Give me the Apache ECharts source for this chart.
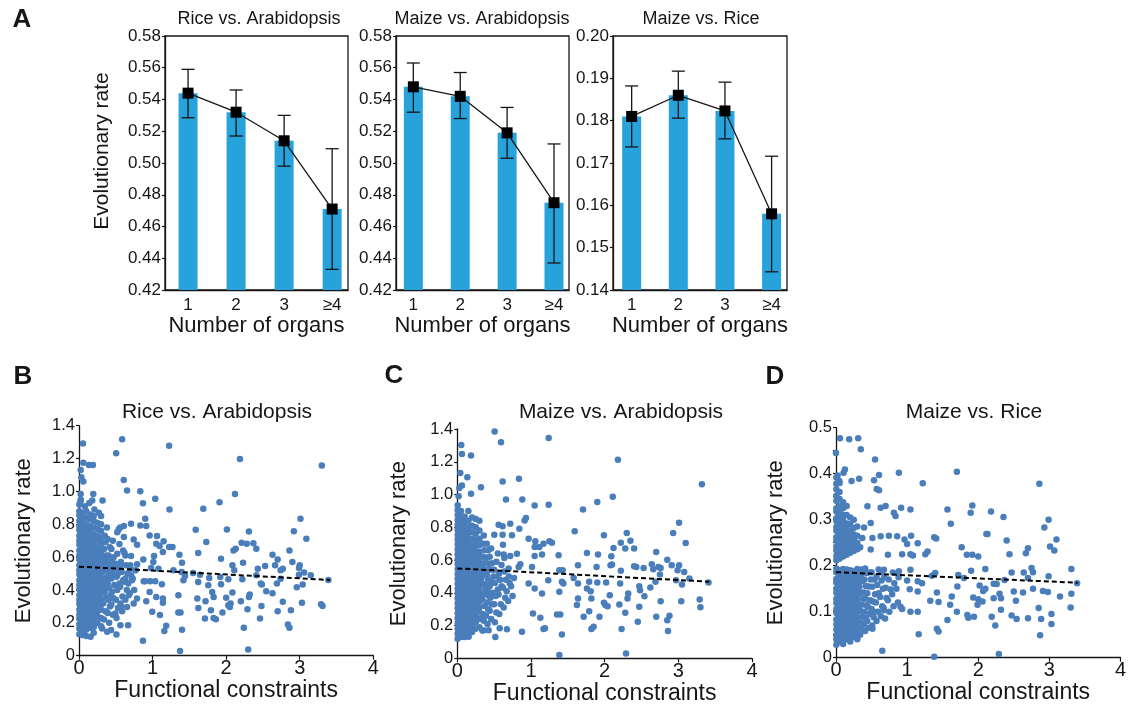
<!DOCTYPE html>
<html><head><meta charset="utf-8">
<script src="https://cdn.jsdelivr.net/npm/echarts@6/dist/echarts.min.js"></script>
<style>html,body{margin:0;padding:0;background:#fff}#c{width:1129px;height:709px}</style>
</head><body><div id="c"></div><script>
// ---------- Panel A data ----------
const organCats = [1, 2, 3, 4];
const organLabels = ['1', '2', '3', '≥4'];
const riceArabMean = [0.544, 0.532, 0.514, 0.471];
const riceArabLow  = [0.5285, 0.517, 0.498, 0.433];
const riceArabHigh = [0.559, 0.546, 0.530, 0.509];
const maizeArabMean = [0.548, 0.542, 0.519, 0.475];
const maizeArabLow  = [0.532, 0.528, 0.503, 0.437];
const maizeArabHigh = [0.563, 0.557, 0.535, 0.512];
const maizeRiceMean = [0.181, 0.186, 0.1823, 0.158];
const maizeRiceLow  = [0.1738, 0.1806, 0.1757, 0.1443];
const maizeRiceHigh = [0.1882, 0.1917, 0.1891, 0.1716];

// ---------- Panels B-D data (functional constraints, evolutionary rate) ----------
const bSparse = [[0.054,1.292],[0.586,1.318],[0.505,1.232],[1.225,1.278],[0.059,1.175],[0.135,1.161],[0.189,1.161],[0.023,1.13],[0.032,1.086],[0.059,1.06],[0.608,1.07],[0.653,1.005],[0.833,1.001],[0.023,0.985],[0.194,0.985],[1.036,0.955],[0.02,0.94],[0.32,0.944],[0.18,0.944],[0.869,0.928],[1.23,0.89],[1.689,0.894],
[0.9,0.833],[0.56,0.78],[0.61,0.79],[0.54,0.77],[0.707,0.803],[0.833,0.793],[0.914,0.789],[0.52,0.752],[0.61,0.722],[0.743,0.708],[0.96,0.732],[1.06,0.728],[1.05,0.681],[1.15,0.696],[1.095,0.667],[1.225,0.661],[1.27,0.661],[0.79,0.675],[1.586,0.766],[1.73,0.692],[1.62,0.625],[1.365,0.615],[1.14,0.631],[1.02,0.607],[0.617,0.627],[0.63,0.61],[0.707,0.607],[0.874,0.586],[1.4,0.566],[1.01,0.57],[0.79,0.556],[0.698,0.55],[0.56,0.54],[0.47,0.534],[0.98,0.534],[1.08,0.53],[1.284,0.52],[1.395,0.51],[1.55,0.504],[1.644,0.493],[1.441,0.485],[1.419,0.459],[0.9,0.453],[0.968,0.453],[1.036,0.453],[0.88,0.453],[1.126,0.435],[0.52,0.49],[0.63,0.47],[0.72,0.46],[1.62,0.449],[1.757,0.429],[1.351,0.368],[0.96,0.388],[1.05,0.358],[1.14,0.348],[1.14,0.322],[0.914,0.332],[0.788,0.348],[0.676,0.368],[0.743,0.317],[0.653,0.297],[0.563,0.317],[1.608,0.348],[1.622,0.291],[1.793,0.277],[1.712,0.226],[0.586,0.271],[0.495,0.257],[0.995,0.267],[1.1,0.247],[1.35,0.263],[1.38,0.263],[0.563,0.186],[0.667,0.186],[1.185,0.182],[1.16,0.15],[1.4,0.158],[0.509,0.129],[0.869,0.091],[1.374,0.028],
[0.045,0.126],[0.158,0.115],[0.203,0.176],[0.315,0.166],[0.383,0.146],[0.437,0.156],[0.135,0.186],[0.068,0.146],[0.025,0.95],[0.08,0.91],[0.14,0.93],[0.21,0.89],[0.27,0.87],
[0.34,0.22],[0.36,0.27],[0.33,0.32],[0.37,0.355],[0.35,0.39],[0.34,0.42],[0.36,0.45],[0.38,0.48],[0.33,0.515],[0.36,0.55],[0.35,0.58],[0.37,0.61],[0.34,0.65],[0.36,0.69],[0.35,0.73],[0.38,0.78],
[0.41,0.2],[0.39,0.26],[0.42,0.3],[0.4,0.34],[0.43,0.37],[0.41,0.41],[0.39,0.44],[0.42,0.475],[0.4,0.51],[0.43,0.54],[0.41,0.575],[0.4,0.61],[0.42,0.66],[0.39,0.71],
[0.46,0.25],[0.44,0.31],[0.47,0.35],[0.45,0.39],[0.48,0.43],[0.44,0.47],[0.46,0.5],[0.49,0.535],[0.45,0.57],[0.47,0.6],[0.44,0.65],[0.46,0.7],
[0.51,0.23],[0.53,0.29],[0.5,0.34],[0.52,0.4],[0.55,0.44],[0.51,0.48],[0.54,0.52],[0.5,0.56],[0.52,0.62],[0.55,0.68],
[0.57,0.3],[0.59,0.36],[0.56,0.42],[0.6,0.46],[0.58,0.51],[0.57,0.57],[0.6,0.64],
[0.63,0.34],[0.65,0.4],[0.62,0.45],[0.66,0.5],[0.64,0.55],[0.69,0.38],[0.67,0.44],[0.71,0.49],[0.7,0.53],[0.75,0.4],[0.73,0.47],[0.77,0.52],
[2.1875,1.197],[3.30,1.157],[2.12,0.985],[1.91,0.934],[2.01,0.768],[2.31,0.756],[2.21,0.688],[2.28,0.681],[2.37,0.684],[2.41,0.651],[2.10,0.641],[2.13,0.651],[1.93,0.59],[2.23,0.566],[2.085,0.55],[2.11,0.52],[2.63,0.615],[2.70,0.586],[2.86,0.641],[2.90,0.57],[2.92,0.758],[3.01,0.833],[3.09,0.712],[2.53,0.546],[2.665,0.55],[2.77,0.53],[2.74,0.52],[2.43,0.53],[3.00,0.55],[2.99,0.534],[3.06,0.506],[3.15,0.49],[2.99,0.493],[3.39,0.461],[1.77,0.473],[1.92,0.479],[2.03,0.465],[2.22,0.465],[2.41,0.49],[2.74,0.469],[3.04,0.433],[2.96,0.417],[2.69,0.439],[2.47,0.439],[2.485,0.433],[2.545,0.392],[2.63,0.38],[1.93,0.435],[1.81,0.388],[1.83,0.358],[2.085,0.384],[2.0,0.352],[2.32,0.372],[2.31,0.358],[1.72,0.332],[2.03,0.307],[2.05,0.297],[2.06,0.318],[2.2,0.332],[2.48,0.303],[2.77,0.328],[3.03,0.322],[3.29,0.313],[3.31,0.303],[1.95,0.263],[2.29,0.283],[2.70,0.271],[2.88,0.277],[1.83,0.23],[1.86,0.222],[2.46,0.226],[2.24,0.17],[2.84,0.19],[2.86,0.17],[2.30,0.038]];
const bDense = [
[0.005,[0.13,0.165,0.19,0.225,0.25,0.28,0.315,0.34,0.37,0.405,0.43,0.46,0.495,0.52,0.55,0.585,0.61,0.64,0.675,0.7,0.73,0.765,0.79,0.82,0.855,0.88,0.92]],
[0.05,[0.15,0.18,0.21,0.24,0.27,0.295,0.33,0.355,0.385,0.415,0.445,0.475,0.505,0.535,0.565,0.595,0.625,0.655,0.685,0.715,0.745,0.775,0.805,0.835,0.87]],
[0.1,[0.12,0.16,0.2,0.23,0.26,0.29,0.32,0.35,0.38,0.41,0.44,0.47,0.5,0.53,0.56,0.59,0.62,0.65,0.68,0.71,0.74,0.77,0.8,0.84,0.88]],
[0.15,[0.17,0.2,0.235,0.265,0.3,0.33,0.36,0.39,0.425,0.455,0.485,0.51,0.545,0.575,0.6,0.635,0.665,0.695,0.725,0.76,0.79,0.83,0.86]],
[0.2,[0.14,0.19,0.22,0.25,0.285,0.315,0.345,0.37,0.4,0.435,0.465,0.49,0.525,0.555,0.58,0.615,0.645,0.67,0.705,0.74,0.78,0.82,0.85]],
[0.25,[0.2,0.24,0.27,0.3,0.335,0.365,0.39,0.42,0.455,0.48,0.51,0.54,0.57,0.6,0.63,0.66,0.7,0.73,0.77,0.81]],
[0.3,[0.18,0.23,0.28,0.31,0.345,0.38,0.41,0.44,0.47,0.5,0.53,0.56,0.59,0.625,0.66,0.69,0.72,0.76,0.8,0.85]]];
const bTrend = [[0, 0.542], [3.41, 0.461]];

const cSparse = [[0.507,1.384],[0.593,1.319],[1.24,1.345],[0.054,1.302],[0.063,1.248],[0.186,1.238],[0.041,1.132],[0.136,1.106],[0.063,1.055],[0.027,1.04],[0.615,1.08],[0.837,1.096],[0.321,1.045],[0.186,1.004],[0.018,0.99],[0.661,0.97],[0.882,0.97],[1.05,0.933],[1.24,0.937],[1.706,0.909],[1.593,0.775],[0.561,0.816],[0.615,0.806],[0.719,0.822],[0.842,0.791],[0.932,0.856],[0.914,0.842],[0.502,0.755],[0.615,0.755],[0.742,0.751],[0.968,0.73],[1.059,0.714],[1.17,0.7],[1.25,0.714],[1.285,0.706],[1.113,0.68],[1.05,0.68],[0.62,0.694],[1.76,0.643],[1.375,0.629],[1.15,0.633],[1.05,0.625],[0.81,0.639],[0.629,0.633],[0.638,0.613],[0.719,0.625],[1.638,0.568],[0.855,0.574],[0.833,0.558],[1.014,0.558],[0.697,0.548],[1.385,0.538],[1.43,0.538],[1.235,0.477],[1.42,0.467],[1.44,0.457],[1.579,0.491],[1.638,0.456],[1.385,0.406],[1.15,0.396],[1.05,0.426],[0.968,0.456],[1.638,0.365],[1.624,0.325],[1.79,0.288],[1.715,0.254],[1.027,0.274],[1.127,0.248],[1.353,0.268],[1.398,0.268],[1.17,0.179],[1.19,0.183],[1.42,0.146],[0.674,0.177],[0.878,0.162],[0.516,0.13],[1.385,0.02],
[0.054,0.132],[0.154,0.132],[0.2,0.187],[0.267,0.243],[0.335,0.243],[0.357,0.172],[0.425,0.172],[0.575,0.183],[0.086,0.183],
[0.34,0.17],[0.36,0.23],[0.35,0.27],[0.37,0.32],[0.34,0.36],[0.36,0.39],[0.38,0.42],[0.35,0.455],[0.33,0.49],[0.37,0.52],[0.35,0.55],[0.36,0.58],[0.34,0.62],[0.37,0.66],[0.35,0.7],[0.36,0.75],
[0.41,0.21],[0.39,0.26],[0.42,0.3],[0.4,0.34],[0.43,0.38],[0.41,0.41],[0.39,0.445],[0.42,0.48],[0.4,0.51],[0.43,0.545],[0.41,0.58],[0.39,0.615],[0.42,0.66],[0.4,0.7],
[0.46,0.24],[0.44,0.29],[0.47,0.33],[0.45,0.37],[0.48,0.4],[0.44,0.44],[0.46,0.47],[0.49,0.5],[0.45,0.54],[0.47,0.58],[0.44,0.62],[0.46,0.67],
[0.51,0.22],[0.53,0.28],[0.5,0.33],[0.52,0.38],[0.55,0.42],[0.51,0.46],[0.54,0.5],[0.5,0.54],[0.53,0.59],[0.55,0.64],
[0.57,0.27],[0.59,0.33],[0.56,0.39],[0.6,0.44],[0.58,0.48],[0.57,0.52],[0.6,0.57],
[0.63,0.31],[0.65,0.37],[0.62,0.43],[0.66,0.48],[0.64,0.53],[0.69,0.35],[0.67,0.41],[0.71,0.46],[0.7,0.5],[0.75,0.38],[0.73,0.44],[0.77,0.49],
[2.18,1.213],[3.32,1.063],[2.11,0.986],[1.9,0.954],[1.99,0.751],[2.3,0.765],[2.22,0.706],[2.35,0.718],[2.28,0.67],[2.4,0.67],[2.12,0.674],[3.01,0.828],[2.93,0.765],[3.1,0.704],[1.91,0.633],[2.09,0.623],[2.08,0.568],[2.1,0.572],[1.89,0.558],[2.22,0.534],[2.4,0.562],[2.43,0.558],[2.53,0.552],[2.64,0.574],[2.7,0.649],[2.85,0.601],[2.73,0.558],[2.76,0.552],[2.66,0.544],[2.75,0.511],[2.91,0.568],[3.01,0.568],[2.99,0.538],[3.08,0.527],[3.15,0.487],[3.41,0.463],[2.97,0.477],[3.05,0.45],[2.69,0.467],[2.62,0.432],[2.47,0.44],[2.48,0.416],[2.54,0.379],[2.32,0.396],[2.31,0.365],[2.21,0.456],[2.02,0.463],[1.9,0.463],[1.79,0.467],[1.76,0.426],[1.81,0.41],[2.07,0.385],[1.82,0.365],[1.99,0.339],[2.01,0.325],[2.04,0.318],[2.2,0.329],[2.47,0.314],[2.76,0.349],[3.04,0.349],[3.29,0.359],[3.3,0.312],[1.93,0.254],[2.28,0.278],[2.7,0.254],[2.88,0.26],[2.45,0.223],[1.82,0.179],[1.85,0.193],[2.23,0.179],[2.85,0.233],[2.86,0.166],[2.29,0.03]];
const cDense = [
[0.005,[0.12,0.15,0.18,0.215,0.245,0.275,0.305,0.335,0.365,0.395,0.425,0.455,0.485,0.515,0.545,0.575,0.605,0.635,0.665,0.695,0.725,0.755,0.785,0.815,0.845,0.875,0.905,0.935]],
[0.05,[0.14,0.17,0.2,0.23,0.26,0.29,0.32,0.35,0.38,0.41,0.44,0.47,0.5,0.53,0.56,0.59,0.62,0.65,0.68,0.71,0.74,0.77,0.8,0.835,0.87,0.9]],
[0.1,[0.13,0.165,0.195,0.225,0.255,0.285,0.315,0.345,0.375,0.405,0.435,0.465,0.495,0.525,0.555,0.585,0.615,0.645,0.675,0.705,0.735,0.765,0.795,0.83,0.865]],
[0.15,[0.15,0.185,0.215,0.245,0.28,0.31,0.34,0.37,0.4,0.43,0.46,0.49,0.52,0.55,0.58,0.61,0.64,0.67,0.7,0.73,0.765,0.8,0.84,0.9]],
[0.2,[0.16,0.2,0.235,0.265,0.3,0.33,0.36,0.39,0.42,0.45,0.48,0.51,0.54,0.57,0.6,0.63,0.66,0.69,0.73,0.77,0.81,0.86]],
[0.25,[0.18,0.22,0.255,0.29,0.32,0.35,0.38,0.41,0.44,0.47,0.5,0.53,0.56,0.59,0.62,0.655,0.69,0.72,0.76,0.8,0.85]],
[0.3,[0.19,0.24,0.28,0.31,0.345,0.375,0.405,0.435,0.465,0.495,0.525,0.555,0.585,0.62,0.65,0.69,0.73,0.78,0.84]]];
const cTrend = [[0, 0.549], [3.42, 0.468]];

const dSparse = [[0.056,0.477],[0.186,0.475],[0.312,0.477],[0.0,0.445],[0.349,0.453],[0.549,0.431],[0.884,0.402],[1.70,0.404],[1.22,0.379],[0.126,0.409],[0.107,0.402],[0.023,0.396],[0.047,0.384],[0.219,0.384],[0.326,0.389],[0.535,0.386],[0.605,0.397],[0.572,0.367],[0.605,0.364],[0.442,0.329],[0.628,0.326],[0.698,0.33],[0.814,0.315],[0.837,0.308],[0.916,0.326],[1.047,0.322],[1.567,0.322],[1.614,0.291],[0.488,0.293],[0.395,0.283],[0.512,0.26],[0.628,0.264],[0.744,0.265],[0.86,0.264],[1.056,0.265],[0.963,0.257],[1.0,0.247],[1.149,0.249],[1.381,0.262],[1.409,0.259],[1.047,0.225],[0.93,0.225],[0.73,0.224],[0.488,0.235],[1.288,0.231],[1.256,0.225],[1.767,0.24],[1.84,0.224],[1.082,0.222],[0.674,0.191],[0.884,0.188],[1.047,0.191],[1.395,0.184],[1.72,0.18],[1.0,0.168],[1.149,0.166],[1.21,0.162],[1.349,0.178],[1.707,0.155],[1.037,0.149],[1.149,0.144],[1.419,0.142],[1.628,0.133],[1.326,0.124],[1.442,0.121],[1.605,0.115],[0.907,0.111],[0.93,0.106],[1.047,0.1],[1.149,0.1],[1.7,0.1],[1.847,0.093],[1.567,0.082],[0.512,0.063],[0.535,0.1],[0.674,0.103],[1.163,0.051],[1.419,0.063],[1.442,0.057],[0.651,0.015],[1.381,0.002],
[0.34,0.05],[0.36,0.063],[0.35,0.076],[0.37,0.089],[0.34,0.102],[0.36,0.115],[0.38,0.128],[0.35,0.141],[0.33,0.154],[0.37,0.167],[0.35,0.18],[0.36,0.192],[0.34,0.24],[0.37,0.26],
[0.41,0.058],[0.39,0.072],[0.42,0.086],[0.4,0.1],[0.43,0.114],[0.41,0.128],[0.39,0.142],[0.42,0.156],[0.4,0.17],[0.43,0.184],[0.41,0.194],
[0.46,0.065],[0.44,0.08],[0.47,0.095],[0.45,0.11],[0.48,0.125],[0.44,0.14],[0.46,0.155],[0.49,0.17],[0.45,0.185],
[0.51,0.07],[0.53,0.088],[0.5,0.106],[0.52,0.122],[0.55,0.138],[0.51,0.154],[0.54,0.17],[0.5,0.186],
[0.57,0.08],[0.59,0.1],[0.56,0.12],[0.6,0.14],[0.58,0.158],[0.57,0.176],[0.6,0.192],
[0.63,0.09],[0.65,0.112],[0.62,0.132],[0.66,0.15],[0.64,0.168],[0.63,0.186],[0.69,0.085],[0.67,0.108],[0.71,0.13],[0.7,0.152],[0.68,0.175],
[0.75,0.1],[0.73,0.125],[0.77,0.148],[0.74,0.17],[0.81,0.112],[0.79,0.138],[0.82,0.162],[0.8,0.185],[0.87,0.12],[0.85,0.15],[0.88,0.175],
[2.86,0.378],[1.917,0.331],[1.894,0.315],[2.18,0.318],[2.355,0.306],[2.99,0.3],[2.93,0.283],[2.115,0.269],[2.13,0.269],[2.4,0.255],[3.1,0.257],[3.01,0.242],[3.07,0.233],[2.7,0.238],[2.67,0.227],[2.44,0.225],[1.917,0.224],[2.0,0.22],[2.1,0.193],[1.9,0.189],[2.47,0.185],[2.64,0.185],[2.75,0.195],[2.77,0.186],[3.31,0.193],[2.99,0.177],[1.8,0.173],[2.37,0.169],[2.7,0.173],[3.39,0.162],[2.02,0.157],[2.217,0.161],[2.26,0.16],[2.1,0.15],[2.07,0.145],[2.77,0.15],[2.5,0.144],[2.63,0.142],[2.91,0.145],[2.98,0.143],[3.31,0.139],[3.15,0.133],[1.93,0.131],[2.0,0.127],[2.06,0.122],[2.217,0.129],[2.3,0.139],[2.32,0.129],[2.53,0.124],[1.99,0.115],[2.85,0.108],[3.3,0.109],[2.32,0.104],[3.03,0.095],[1.86,0.087],[1.94,0.089],[2.19,0.089],[2.47,0.092],[2.54,0.084],[2.7,0.086],[2.885,0.084],[2.24,0.07],[3.03,0.073],[2.87,0.049],[2.29,0.008]];
const dDense = [
[0.005,[0.028,0.04,0.049,0.061,0.072,0.083,0.097,0.106,0.119,0.128,0.141,0.15,0.163,0.171,0.186,0.194,0.212,0.221,0.233,0.241,0.254,0.262,0.276,0.284,0.297,0.303,0.318,0.325,0.341,0.352,0.366,0.378,0.392]],
[0.05,[0.035,0.046,0.056,0.067,0.078,0.089,0.1,0.111,0.123,0.134,0.145,0.156,0.167,0.178,0.19,0.215,0.226,0.237,0.248,0.259,0.27,0.281,0.292,0.305,0.316,0.33,0.345,0.36,0.38]],
[0.1,[0.03,0.042,0.053,0.064,0.075,0.086,0.097,0.108,0.119,0.13,0.141,0.152,0.163,0.174,0.185,0.193,0.22,0.231,0.242,0.253,0.264,0.275,0.286,0.298,0.31,0.325,0.338]],
[0.15,[0.04,0.051,0.062,0.073,0.084,0.095,0.106,0.117,0.128,0.139,0.15,0.161,0.172,0.183,0.192,0.224,0.235,0.246,0.257,0.268,0.28,0.292,0.31,0.33]],
[0.2,[0.035,0.047,0.058,0.069,0.08,0.091,0.102,0.113,0.124,0.135,0.146,0.157,0.168,0.179,0.19,0.228,0.24,0.252,0.264,0.276,0.29,0.305]],
[0.25,[0.045,0.056,0.067,0.078,0.089,0.1,0.111,0.122,0.133,0.144,0.155,0.166,0.177,0.188,0.232,0.244,0.256,0.268,0.282,0.3]],
[0.3,[0.04,0.052,0.064,0.076,0.088,0.1,0.112,0.124,0.136,0.148,0.16,0.172,0.184,0.193,0.236,0.25,0.265,0.285]]];
const dTrend = [[0, 0.186], [3.4, 0.163]];

// ---------- build ----------
const FONT = "'Liberation Sans', Arial, sans-serif";
const INK = '#161616';
const BAR = '#27a2db';
const DOT = '#4a7ebb';
function expand(cols) { const out = []; cols.forEach(c => c[1].forEach(y => out.push([c[0], y]))); return out; }

const barPanels = [
  {mean: riceArabMean, low: riceArabLow, high: riceArabHigh, ymin: 0.42, ymax: 0.58, step: 0.02, xmin: 0.52, xmax: 4.33,
   grid: {left: 165, top: 36, width: 183, height: 254}, yName: 'Evolutionary rate'},
  {mean: maizeArabMean, low: maizeArabLow, high: maizeArabHigh, ymin: 0.42, ymax: 0.58, step: 0.02, xmin: 0.63, xmax: 4.32,
   grid: {left: 396, top: 36, width: 173, height: 254}, yName: ''},
  {mean: maizeRiceMean, low: maizeRiceLow, high: maizeRiceHigh, ymin: 0.14, ymax: 0.20, step: 0.01, xmin: 0.6, xmax: 4.33,
   grid: {left: 613, top: 36, width: 174, height: 254}, yName: ''}
];
const scatterPanels = [
  {pts: expand(bDense).concat(bSparse), trend: bTrend, ymax: 1.4, step: 0.2, grid: {left: 79, top: 425.7, width: 294.3, height: 230}, gap: 44},
  {pts: expand(cDense).concat(cSparse), trend: cTrend, ymax: 1.4, step: 0.2, grid: {left: 457.3, top: 429, width: 294.7, height: 229.3}, gap: 47},
  {pts: expand(dDense).concat(dSparse), trend: dTrend, ymax: 0.5, step: 0.05, grid: {left: 836, top: 427.7, width: 287, height: 230}, gap: 49}
];

const grid = [], xAxis = [], yAxis = [], series = [];
const axisLine = {show: true, lineStyle: {color: INK, width: 1.3}};

barPanels.forEach((p, i) => {
  grid.push(Object.assign({show: true, borderColor: INK, borderWidth: 1.3, backgroundColor: 'transparent'}, p.grid));
  xAxis.push({type: 'value', gridIndex: i, min: p.xmin, max: p.xmax,
    axisLine: axisLine, axisTick: {show: false}, splitLine: {show: false},
    axisLabel: {customValues: organCats, formatter: v => organLabels[organCats.indexOf(Math.round(v))] || '',
      fontSize: 17, color: INK, fontFamily: FONT, margin: 7},
    name: 'Number of organs', nameLocation: 'middle', nameGap: 21,
    nameTextStyle: {fontSize: 22, color: INK, fontFamily: FONT}});
  yAxis.push({type: 'value', gridIndex: i, min: p.ymin, max: p.ymax, interval: p.step,
    axisLine: axisLine, axisTick: {show: true, length: 3, lineStyle: {color: INK, width: 1.2}}, splitLine: {show: false},
    axisLabel: {formatter: v => v.toFixed(2), fontSize: 17, color: INK, fontFamily: FONT, margin: 4},
    name: p.yName, nameLocation: 'middle', nameGap: 52,
    nameTextStyle: {fontSize: 21, color: INK, fontFamily: FONT, padding: [0, 0, 0, 24]}});
  const ymin = p.ymin;
  series.push({type: 'custom', xAxisIndex: i, yAxisIndex: i, z: 2,
    data: organCats.map((c, k) => [c, p.mean[k]]), encode: {x: 0, y: 1},
    renderItem: (params, api) => {
      const top = api.coord([api.value(0), api.value(1)]);
      const base = api.coord([api.value(0), ymin]);
      return {type: 'rect', shape: {x: top[0] - 9.5, y: top[1], width: 19, height: base[1] - top[1]}, style: {fill: BAR}};
    }});
  series.push({type: 'custom', xAxisIndex: i, yAxisIndex: i, z: 3,
    data: organCats.map((c, k) => [c, p.low[k], p.high[k]]), encode: {x: 0, y: [1, 2]},
    renderItem: (params, api) => {
      const lo = api.coord([api.value(0), api.value(1)]);
      const hi = api.coord([api.value(0), api.value(2)]);
      const st = {stroke: INK, lineWidth: 1.3};
      return {type: 'group', children: [
        {type: 'line', shape: {x1: hi[0], y1: hi[1], x2: lo[0], y2: lo[1]}, style: st},
        {type: 'line', shape: {x1: hi[0] - 6.5, y1: hi[1], x2: hi[0] + 6.5, y2: hi[1]}, style: st},
        {type: 'line', shape: {x1: lo[0] - 6.5, y1: lo[1], x2: lo[0] + 6.5, y2: lo[1]}, style: st}
      ]};
    }});
  series.push({type: 'line', xAxisIndex: i, yAxisIndex: i, z: 4,
    data: organCats.map((c, k) => [c, p.mean[k]]),
    symbol: 'rect', symbolSize: 11, itemStyle: {color: '#000'},
    lineStyle: {color: INK, width: 1.3}});
});

scatterPanels.forEach((p, j) => {
  const i = j + 3;
  grid.push(p.grid);
  xAxis.push({type: 'value', gridIndex: i, min: 0, max: 4, interval: 1,
    axisLine: axisLine, axisTick: {show: true, length: 4, lineStyle: {color: INK, width: 1.2}}, splitLine: {show: false},
    axisLabel: {fontSize: 20, color: INK, fontFamily: FONT, margin: 3},
    name: 'Functional constraints', nameLocation: 'middle', nameGap: 23,
    nameTextStyle: {fontSize: 23, color: INK, fontFamily: FONT}});
  yAxis.push({type: 'value', gridIndex: i, min: 0, max: p.ymax, interval: p.step,
    axisLine: axisLine, axisTick: {show: true, length: 3, lineStyle: {color: INK, width: 1.2}}, splitLine: {show: false},
    axisLabel: {fontSize: 16.5, color: INK, fontFamily: FONT, margin: 4,
      formatter: v => { if (v === 0) return '0'; if (Math.round(v * 100) % 10 !== 0) return ''; return v.toFixed(1); }},
    name: 'Evolutionary rate', nameLocation: 'middle', nameGap: p.gap,
    nameTextStyle: {fontSize: 22, color: INK, fontFamily: FONT}});
  series.push({type: 'scatter', xAxisIndex: i, yAxisIndex: i, data: p.pts,
    symbolSize: 6.5, itemStyle: {color: DOT, opacity: 1}, z: 2});
  series.push({type: 'line', xAxisIndex: i, yAxisIndex: i, data: p.trend, symbol: 'none', z: 4,
    lineStyle: {color: '#000', width: 2, type: [5, 3]}});
});

function txt(text, x, y, size, weight) {
  return {type: 'text', x: x, y: y, z: 10, style: {text: text, fontSize: size, fontFamily: FONT, fontWeight: weight || 'normal',
    fill: INK, align: 'center', verticalAlign: 'middle'}};
}
const graphic = [
  txt('A', 22, 20, 26, 'bold'), txt('B', 23, 377, 26, 'bold'), txt('C', 394, 376, 26, 'bold'), txt('D', 775, 377, 26, 'bold'),
  txt('Rice vs. Arabidopsis', 259, 19, 18), txt('Maize vs. Arabidopsis', 482, 19, 18), txt('Maize vs. Rice', 701, 19, 18),
  txt('Rice vs. Arabidopsis', 217, 412, 21), txt('Maize vs. Arabidopsis', 621, 412, 21), txt('Maize vs. Rice', 974, 412, 21)
];

const chart = echarts.init(document.getElementById('c'), null, {renderer: 'canvas'});
chart.setOption({animation: false, backgroundColor: '#fff', grid, xAxis, yAxis, series, graphic,
  textStyle: {fontFamily: FONT}});
</script></body></html>
